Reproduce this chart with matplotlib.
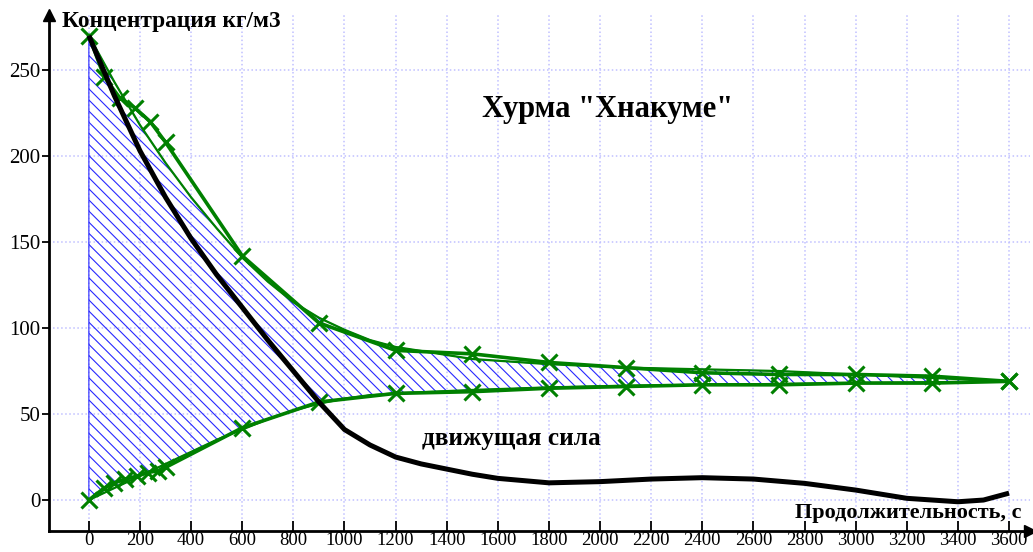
import numpy as np
import matplotlib
matplotlib.use("Agg")
import matplotlib.pyplot as plt

# experimental points (thick green lines with crosses)
t_exp = [0, 60, 120, 180, 240, 300, 600, 900, 1200, 1500, 1800, 2100, 2400, 2700, 3000, 3300, 3600]
c_upper = [270, 246, 234, 228, 220, 208, 142, 103, 87, 85, 80, 77, 74, 73, 73, 72, 69]
t_low = [0, 60, 100, 140, 190, 230, 270, 300, 600, 900, 1200, 1500, 1800, 2100, 2400, 2700, 3000, 3300, 3600]
c_lower = [0, 7, 10, 12, 14, 16, 17, 19, 42, 57, 62, 63, 65, 66, 67, 67, 68, 68, 69]

# smoothed curves (thin green), bounding the hatched area
t_fit = [0, 100, 200, 300, 400, 500, 600, 700, 800, 900, 1000, 1100, 1200,
         1500, 1800, 2100, 2400, 2700, 3000, 3300, 3600]
fit_upper = [270, 243, 218, 196, 176, 158, 141, 127, 115, 106, 99, 93, 89,
             82, 79, 77, 76, 75, 73, 71, 69]
fit_lower = [0, 7, 14, 21, 28, 35, 41, 47, 52, 56, 59, 61, 62,
             64, 65.5, 66.5, 67, 67.5, 68, 68.5, 69]

# driving force (black)
t_force = [0, 100, 200, 300, 400, 500, 600, 700, 800, 900, 1000, 1100, 1200, 1300,
           1400, 1500, 1600, 1800, 2000, 2200, 2400, 2600, 2800, 3000, 3200, 3400, 3500, 3600]
c_force = [270, 235, 203, 176, 152, 131, 112, 93, 75, 57, 41, 32, 25, 21,
           18, 15, 12.6, 10, 10.7, 12.2, 13, 12.2, 9.7, 5.8, 1, -1, 0, 4]

x_ticks = list(range(0, 3601, 200))
y_ticks = [0, 50, 100, 150, 200, 250]

plt.rcParams['font.family'] = ['Liberation Serif', 'DejaVu Serif']
plt.rcParams['hatch.linewidth'] = 0.8

fig = plt.figure(figsize=(10.33, 5.52), dpi=100)
ax = fig.add_axes([49 / 1033, 21 / 552, 981 / 1033, 516 / 552])
ax.set_xlim(-156, 3682)
ax.set_ylim(-18, 282)

green = '#008000'

ax.fill_between(t_fit, fit_lower, fit_upper, facecolor='none', edgecolor='#2828ff',
                hatch='\\\\\\', linewidth=0.8, zorder=2)
ax.plot(t_fit, fit_upper, color=green, lw=1.6, zorder=3)
ax.plot(t_fit, fit_lower, color=green, lw=1.6, zorder=3)
ax.plot(t_exp, c_upper, color=green, lw=2.6, marker='x', ms=11, mew=2.2, zorder=4)
ax.plot(t_low, c_lower, color=green, lw=2.6, marker='x', ms=11, mew=2.2, zorder=4)
ax.plot(t_force, c_force, color='black', lw=3.6, zorder=5, solid_capstyle='butt')

ax.set_xticks(x_ticks)
ax.set_yticks(y_ticks)
ax.grid(True, color='#c0c0ff', linestyle=':', linewidth=1.1, zorder=0)
ax.set_axisbelow(True)

for s in ['top', 'right']:
    ax.spines[s].set_visible(False)
for s in ['left', 'bottom']:
    ax.spines[s].set_linewidth(2)
ax.tick_params(axis='x', direction='in', length=7, width=1.3, labelsize=13.5, pad=1)
ax.tick_params(axis='y', direction='out', length=5, width=1.3, labelsize=15, pad=1)

# arrow heads on the axes
ax.plot([0], [1], marker='^', ms=8, color='black', transform=ax.transAxes, clip_on=False)
ax.plot([1], [0], marker='>', ms=8, color='black', transform=ax.transAxes, clip_on=False)

ax.text(62 / 1033, 1 - 22 / 552, 'Концентрация кг/м3', transform=fig.transFigure,
        fontsize=16.8, fontweight='bold', ha='left', va='center')
ax.text(795 / 1033, 1 - 513 / 552, 'Продолжительность, с', transform=fig.transFigure,
        fontsize=16, fontweight='bold', ha='left', va='center')
ax.text(608 / 1033, 1 - 110 / 552, 'Хурма "Хнакуме"', transform=fig.transFigure,
        fontsize=22, fontweight='bold', ha='center', va='center')
ax.text(511 / 1033, 1 - 438 / 552, 'движущая сила', transform=fig.transFigure,
        fontsize=18.2, fontweight='bold', ha='center', va='center')

fig.savefig('out.png', dpi=100)
